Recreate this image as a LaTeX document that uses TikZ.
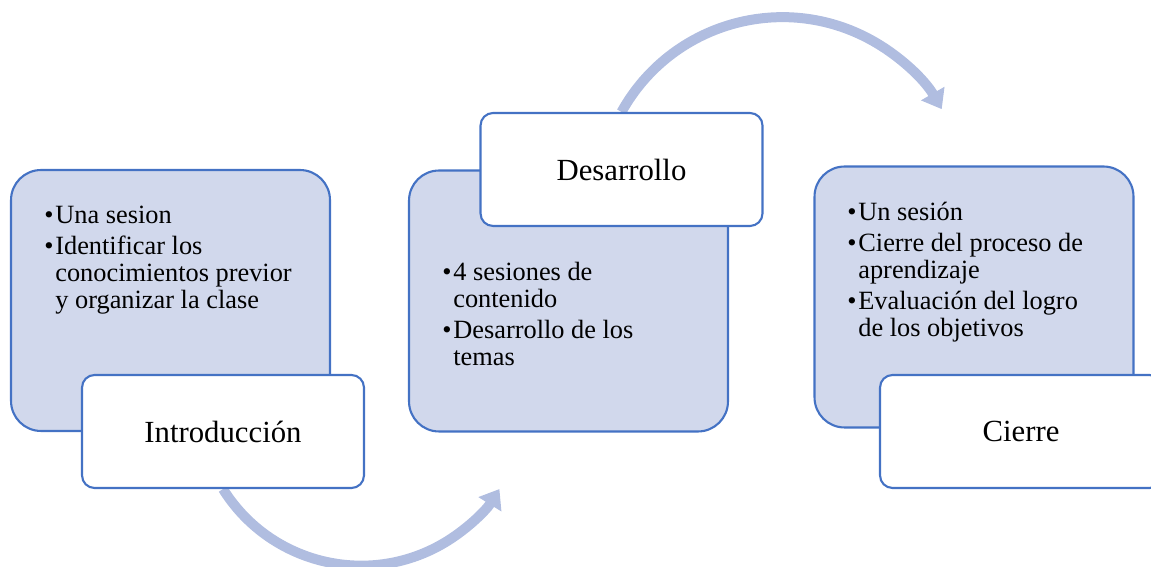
\documentclass[tikz,border=0pt]{standalone}
\usepackage{fontspec}
\setmainfont{Liberation Serif}
\usepackage{tikz}
\usetikzlibrary{arrows.meta, backgrounds}
\definecolor{boxfill}{RGB}{209,216,236}
\definecolor{boxline}{RGB}{68,114,196}
\definecolor{sweepfill}{RGB}{176,189,224}
\tikzset{stagebox/.style={draw=boxline, line width=1.2pt, fill=boxfill, rounded corners=0.6cm, minimum width=6.38cm, minimum height=5.22cm}}
\tikzset{stagetitle/.style={draw=boxline, line width=1.2pt, fill=white, rounded corners=0.25cm, minimum width=5.64cm, minimum height=2.26cm, font=\fontsize{17.5}{21}\selectfont}}
\tikzset{stagetext/.style={anchor=base west, inner sep=0, align=left, font=\fontsize{15}{15.5}\selectfont}}
\tikzset{sweep/.style={draw=sweepfill, line width=0.2cm, -{Triangle[width=0.52cm, length=0.36cm]}}}
\newcommand{\itm}{\makebox[0.22cm][l]{\textbullet}}
\newcommand{\cnt}{\hspace*{0.22cm}}

\begin{document}
\begin{tikzpicture}[x=0.02cm, y=0.02cm]
            \useasboundingbox (0, 0) rectangle (1151, 567);
            % stages
            \node[stagebox] (intro) at (170.5, 266.5) {};
            \node[stagebox] (dev) at (568.5, 266) {};
            \node[stagebox] (close) at (974, 270) {};
            % base sits on the last line
            \node[stagetext] (introtxt) at (44, 258) {\itm Una sesion\\[2.2pt] \itm Identificar los\\ \cnt conocimientos previor\\ \cnt y organizar la clase};
            \node[stagetext] (devtxt) at (442, 201) {\itm 4 sesiones de\\ \cnt contenido\\[2.2pt] \itm Desarrollo de los\\ \cnt temas};
            \node[stagetext] (closetxt) at (847, 230) {\itm Un sesión\\[2.2pt] \itm Cierre del proceso de\\ \cnt aprendizaje\\[2.2pt] \itm Evaluación del logro\\ \cnt de los objetivos};
            % titles
            \node[stagetitle] (introlab) at (223, 135.5) {Introducción};
            \node[stagetitle] (devlab) at (621.5, 397.5) {Desarrollo};
            \node[stagetitle] (closelab) at (1021, 135.5) {Cierre};
            % arrows behind the titles
            \begin{pgfonlayer}{background}
                \draw[sweep] (introlab.south) arc [start angle=212, end angle=328, radius=3.26cm];
                \draw[sweep] (devlab.north) arc [start angle=151, end angle=30, radius=3.68cm];
            \end{pgfonlayer}
        \end{tikzpicture}
\end{document}
